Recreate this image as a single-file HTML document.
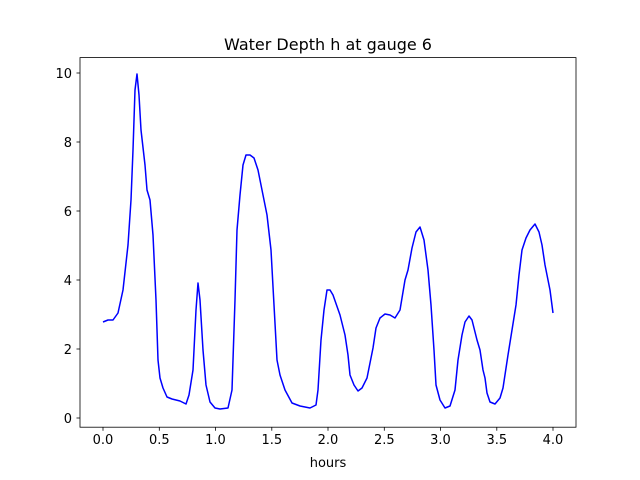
<!DOCTYPE html>
<html><head><meta charset="utf-8"><style>body{margin:0;background:#fff}svg{display:block}text{font-family:"DejaVu Sans","Liberation Sans",sans-serif;fill:#000}</style></head>
<body>
<svg width="640" height="480" viewBox="0 0 640 480" xmlns="http://www.w3.org/2000/svg">
<rect width="640" height="480" fill="#fff"/>
<rect x="80" y="57.6" width="496" height="369.6" fill="none" stroke="#000" stroke-width="0.8"/>
<g stroke="#000" stroke-width="0.8">
<line x1="103" y1="427.2" x2="103" y2="430.7"/><line x1="159.3" y1="427.2" x2="159.3" y2="430.7"/>
<line x1="215.5" y1="427.2" x2="215.5" y2="430.7"/><line x1="271.8" y1="427.2" x2="271.8" y2="430.7"/>
<line x1="328" y1="427.2" x2="328" y2="430.7"/><line x1="384.3" y1="427.2" x2="384.3" y2="430.7"/>
<line x1="440.5" y1="427.2" x2="440.5" y2="430.7"/><line x1="496.8" y1="427.2" x2="496.8" y2="430.7"/>
<line x1="553" y1="427.2" x2="553" y2="430.7"/>
<line x1="76.5" y1="418" x2="80" y2="418"/><line x1="76.5" y1="349" x2="80" y2="349"/>
<line x1="76.5" y1="280" x2="80" y2="280"/><line x1="76.5" y1="211" x2="80" y2="211"/>
<line x1="76.5" y1="142" x2="80" y2="142"/><line x1="76.5" y1="73" x2="80" y2="73"/>
</g>
<g font-size="13" text-anchor="middle">
<text x="103" y="444">0.0</text><text x="159.3" y="444">0.5</text><text x="215.5" y="444">1.0</text>
<text x="271.8" y="444">1.5</text><text x="328" y="444">2.0</text><text x="384.3" y="444">2.5</text>
<text x="440.5" y="444">3.0</text><text x="496.8" y="444">3.5</text><text x="553" y="444">4.0</text>
</g>
<g font-size="13" text-anchor="end">
<text x="72" y="423">0</text><text x="72" y="354">2</text><text x="72" y="285">4</text>
<text x="72" y="216">6</text><text x="72" y="147">8</text><text x="72" y="78">10</text>
</g>
<text x="328" y="467" font-size="13" text-anchor="middle">hours</text>
<text x="328" y="50" font-size="16" text-anchor="middle">Water Depth h at gauge 6</text>
<polyline fill="none" stroke="#0000ff" stroke-width="1.5" stroke-linejoin="round" points="103,322 108,320 113,320 118,313 123,290 128,245 131,200 133,150 135,90 137,74 139,95 141,130 145,165 147,190 150,200 153,235 156,300 158,360 160,378 163,388 167,397 172,399 180,401 186,404 189,395 193,370 196,310 198,283 200,300 203,350 206,385 210,402 215,408 220,409 228,408 232,390 235,300 237,230 240,195 243,165 246,155 250,155 254,158 258,170 262,190 267,215 271,250 274,305 277,360 280,375 285,390 292,403 300,406 310,408 316,405 318,390 321,340 324,310 327,290 330,290 333,295 340,315 345,335 348,355 350,375 354,385 358,391 362,388 367,378 373,348 376,328 380,318 385,314 390,315 395,318 400,310 405,280 408,270 412,248 416,232 420,227 424,240 428,270 431,305 434,350 436,385 440,400 445,408 450,406 455,390 458,360 462,335 465,322 469,316 472,320 477,340 480,350 483,370 485,378 487,393 490,402 495,404 500,398 503,388 508,355 512,330 516,305 519,275 522,250 526,238 530,230 535,224 539,232 542,245 545,265 550,290 553,313"/>
</svg>
</body></html>
